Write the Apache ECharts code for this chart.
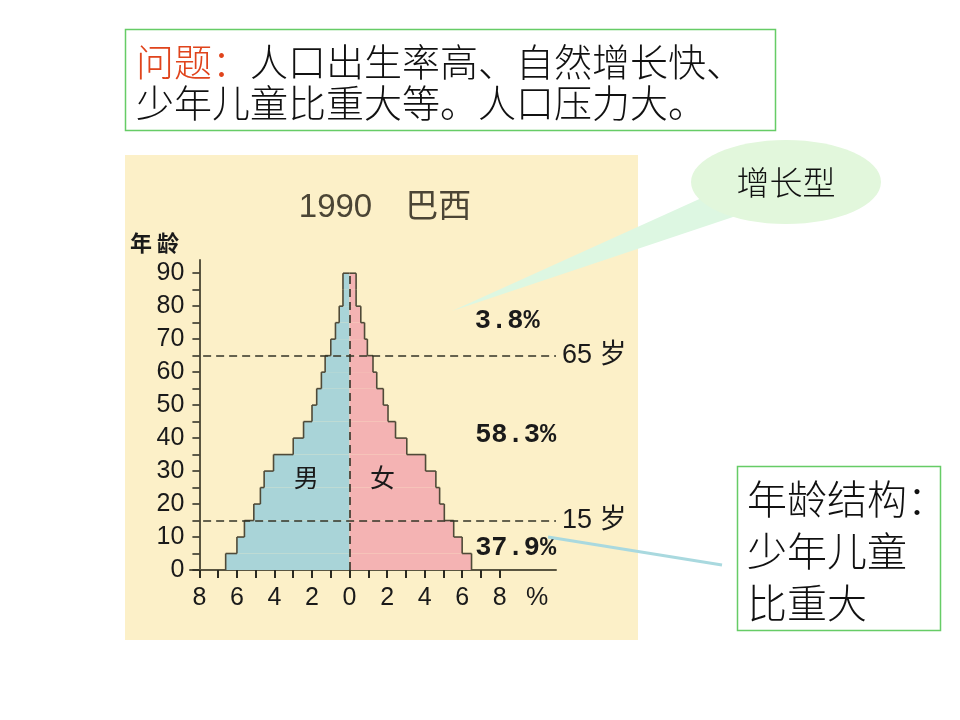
<!DOCTYPE html>
<html>
<head>
<meta charset="utf-8">
<script src="https://cdn.jsdelivr.net/npm/echarts@6/dist/echarts.min.js"></script>
<style>
  html, body { margin: 0; padding: 0; background: #ffffff; }
  #main { width: 960px; height: 720px; }
</style>
</head>
<body>
<div id="main"></div>
<script>
// 1990 巴西 人口金字塔，每 5 岁一组
var ageStarts = [0, 5, 10, 15, 20, 25, 30, 35, 40, 45, 50, 55, 60, 65, 70, 75, 80, 85];
var maleShare = [6.6, 6.0, 5.6, 5.1, 4.75, 4.55, 4.05, 3.0, 2.45, 2.0, 1.75, 1.5, 1.3, 1.0, 0.75, 0.55, 0.35, 0.35];
var femaleShare = [6.5, 6.0, 5.55, 5.05, 4.8, 4.6, 4.05, 3.05, 2.45, 2.05, 1.8, 1.45, 1.25, 0.95, 0.8, 0.6, 0.35, 0.35];

// 刻度
var xTickValues = [-8, -7, -6, -5, -4, -3, -2, -1, 0, 1, 2, 3, 4, 5, 6, 7, 8];
var xLabelValues = [-8, -6, -4, -2, 0, 2, 4, 6, 8, 10];
var yTickValues = [0, 5, 10, 15, 20, 25, 30, 35, 40, 45, 50, 55, 60, 65, 70, 75, 80, 85, 90];
var yLabelValues = [0, 10, 20, 30, 40, 50, 60, 70, 80, 90];

// 年龄段分界和比例
var ageLines = [65, 15];
var ageLineNames = ['65 岁', '15 岁'];
var groupShares = ['3.8%', '58.3%', '37.9%'];
var groupAges = [75.5, 41, 6.7];

var outline = '#4f4a38';
var numFont = '"Liberation Sans Narrow", "Liberation Sans", sans-serif';

function buildData(values) {
  // [起始年龄, 比例, 上一组比例]
  return ageStarts.map(function (age, i) {
    var next = i + 1 < values.length ? values[i + 1] : 0;
    return [age, values[i], next];
  });
}

function renderPyramid(sign, fill) {
  return function (params, api) {
    var age = api.value(0);
    var w = api.value(1);
    var next = api.value(2);
    var a = api.coord([0, age]);
    var b = api.coord([sign * w, age + 5]);
    var c = api.coord([sign * next, age + 5]);
    return {
      type: 'group',
      children: [
        {
          type: 'rect',
          shape: {x: Math.min(a[0], b[0]), y: b[1], width: Math.abs(b[0] - a[0]), height: a[1] - b[1]},
          style: {fill: fill}
        },
        {
          type: 'line', z2: 10,
          shape: {x1: b[0], y1: a[1], x2: b[0], y2: b[1]},
          style: {stroke: outline, lineWidth: 1.6}
        },
        {
          type: 'line', z2: 10,
          shape: {x1: b[0], y1: b[1], x2: c[0], y2: c[1]},
          style: {stroke: outline, lineWidth: 1.6}
        }
      ]
    };
  };
}

var dashLines = [[{coord: [0, 0]}, {coord: [0, 90]}]];
ageLines.forEach(function (age, i) {
  dashLines.push([
    {coord: [-7.8, age], name: ageLineNames[i], label: {show: true}},
    {coord: [11, age]}
  ]);
});

var shareMarks = groupShares.map(function (txt, i) {
  return {coord: [txt.length > 4 ? 8.85 : 8.4, groupAges[i]], value: txt};
});

var chart = echarts.init(document.getElementById('main'));
var option = {
  backgroundColor: '#ffffff',
  animation: false,
  grid: {left: 190, right: 404, top: 260, bottom: 150},
  xAxis: {
    type: 'value',
    min: -8.5,
    max: 11,
    splitLine: {show: false},
    axisLine: {show: true, onZero: false, lineStyle: {color: '#5a5540', width: 2}},
    axisTick: {show: true, customValues: xTickValues, length: 8, lineStyle: {color: '#2a2a20', width: 2}},
    axisLabel: {
      customValues: xLabelValues,
      margin: 16,
      fontSize: 25,
      color: '#1a1a1a',
      fontFamily: numFont,
      formatter: function (v) { return v > 9 ? '%' : String(Math.abs(v)); }
    }
  },
  yAxis: {
    type: 'value',
    min: 0,
    max: 94,
    offset: -9.4,
    splitLine: {show: false},
    axisLine: {show: true, onZero: false, lineStyle: {color: '#5a5540', width: 2}},
    axisTick: {show: true, customValues: yTickValues, length: 7, lineStyle: {color: '#2a2a20', width: 1.5}},
    axisLabel: {
      customValues: yLabelValues,
      margin: 15,
      fontSize: 25,
      color: '#1a1a1a',
      fontFamily: numFont
    }
  },
  series: [
    {
      name: '男',
      type: 'custom',
      renderItem: renderPyramid(-1, '#a9d4d8'),
      data: buildData(maleShare),
      markLine: {
        silent: true,
        symbol: 'none',
        lineStyle: {type: [8, 5], color: '#333326', width: 1.6},
        label: {show: false, position: 'end', formatter: '{b}', fontSize: 27, distance: 6,
          color: '#1a1a1a', fontFamily: numFont + ', "Noto Sans CJK SC"'},
        data: dashLines
      },
      markPoint: {
        silent: true,
        symbol: 'rect',
        symbolSize: 0,
        label: {show: true, position: 'inside', formatter: '男', fontSize: 25, color: '#1a1a1a',
          fontFamily: 'Noto Sans CJK SC'},
        data: [{coord: [-2.3, 28]}]
      }
    },
    {
      name: '女',
      type: 'custom',
      renderItem: renderPyramid(1, '#f4b3b3'),
      data: buildData(femaleShare),
      markPoint: {
        silent: true,
        symbol: 'rect',
        symbolSize: 0,
        label: {show: true, position: 'inside', formatter: function (p) { return p.value; },
          fontSize: 27, fontWeight: 'bold', color: '#1a1a1a', fontFamily: 'Liberation Mono'},
        data: shareMarks.concat([{coord: [1.75, 28], value: '女',
          label: {fontFamily: 'Noto Sans CJK SC', fontSize: 25, fontWeight: 'normal'}}])
      }
    }
  ],
  graphic: [
    // 图片底色
    {type: 'rect', z: -10, shape: {x: 125, y: 155, width: 513, height: 485}, style: {fill: '#fcf0c8'}},
    {type: 'text', z: 10, style: {x: 385, y: 208, text: '1990　巴西', font: '33px "Liberation Sans", "Noto Sans CJK SC"',
      fill: '#4b4535', align: 'center', verticalAlign: 'middle'}},
    {type: 'text', z: 10, style: {x: 130, y: 243, text: '年 龄', font: 'bold 22px "Noto Sans CJK SC"',
      fill: '#1a1a1a', verticalAlign: 'middle'}},
    // 上方文本框
    {type: 'rect', z: 10, shape: {x: 125.5, y: 29.5, width: 650, height: 101},
      style: {fill: 'none', stroke: '#66cc66', lineWidth: 1.5}},
    {type: 'text', z: 10, style: {
      x: 136, y: 41,
      text: '{r|问题：}人口出生率高、自然增长快、\n少年儿童比重大等。人口压力大。',
      font: '300 38px "Noto Sans CJK SC"', fill: '#111111', lineHeight: 41,
      rich: {r: {fill: '#e0441c', font: '300 38px "Noto Sans CJK SC"', lineHeight: 41}}
    }},
    // 增长型 气泡
    {type: 'polygon', z: 10, shape: {points: [[706, 196], [742, 214], [452, 311]]}, style: {fill: '#ddf7e2'}},
    {type: 'ellipse', z: 10, shape: {cx: 786, cy: 182, rx: 95, ry: 42}, style: {fill: '#e2f7dc'}},
    {type: 'text', z: 11, style: {x: 786, y: 182, text: '增长型', font: '300 33px "Noto Sans CJK SC"',
      fill: '#111111', align: 'center', verticalAlign: 'middle'}},
    // 右下文本框
    {type: 'line', z: 10, shape: {x1: 548, y1: 537, x2: 722, y2: 565}, style: {stroke: '#a9d9df', lineWidth: 3}},
    {type: 'rect', z: 10, shape: {x: 737.5, y: 466.5, width: 203, height: 164},
      style: {fill: '#ffffff', stroke: '#66cc66', lineWidth: 1.5}},
    {type: 'text', z: 11, style: {x: 747, y: 473, text: '年龄结构：\n少年儿童\n比重大',
      font: '300 40px "Noto Sans CJK SC"', fill: '#111111', lineHeight: 52}}
  ]
};
chart.setOption(option);
</script>
</body>
</html>
